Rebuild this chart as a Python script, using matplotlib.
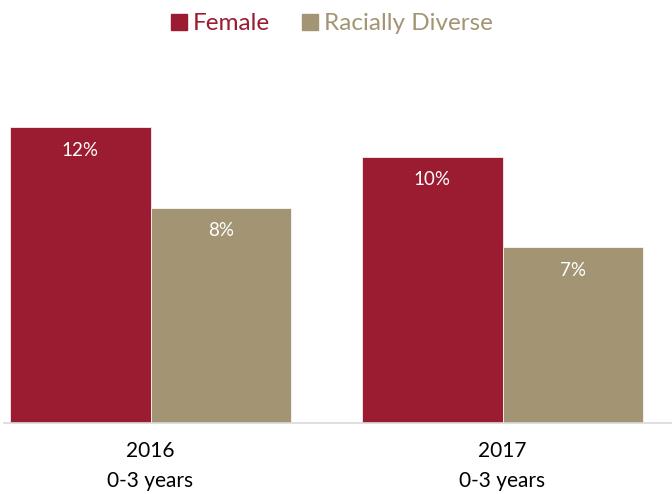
import matplotlib
matplotlib.use("Agg")
import matplotlib.pyplot as plt
from matplotlib.patches import Patch
import numpy as np

plt.rcParams['font.family'] = ['Lato', 'DejaVu Sans']

categories = ["2016\n0-3 years", "2017\n0-3 years"]
series_names = ["Female", "Racially Diverse"]
female = [11.6, 10.44]
diverse = [8.43, 6.89]
colors = ["#9B1B30", "#A39574"]

W, H = 672, 494
fig = plt.figure(figsize=(W / 100, H / 100), dpi=100)
# axes: left edge at x=4px, right at 672, baseline at y=423px
ax = fig.add_axes([4 / W, (H - 423) / H, (W - 4) / W, (423 - 60) / H])

x = np.arange(len(categories))
bw = 0.399
b1 = ax.bar(x - bw / 2, female, bw, color=colors[0], edgecolor='white', linewidth=0.5)
b2 = ax.bar(x + bw / 2, diverse, bw, color=colors[1], edgecolor='white', linewidth=0.5)

px_per_cat = 352.0
ax.set_xlim(-146.5 / px_per_cat, (672 - 150.5) / px_per_cat)
px_per_pct = 296 / 11.6
ax.set_ylim(0, (423 - 60) / px_per_pct)

for bars, vals in ((b1, female), (b2, diverse)):
    for rect, v in zip(bars, vals):
        ax.annotate(f"{v:.0f}%", (rect.get_x() + rect.get_width() / 2, v),
                    xytext=(0, -23), textcoords='offset pixels',
                    ha='center', va='center', color='white', fontsize=13.5)

ax.set_xticks(x)
ax.set_xticklabels(categories, fontsize=15, color='#000000', linespacing=1.65)
ax.tick_params(axis='x', length=0, pad=13)
ax.set_yticks([])
for s in ('top', 'right', 'left'):
    ax.spines[s].set_visible(False)
ax.spines['bottom'].set_color('#D9D9D9')
ax.spines['bottom'].set_linewidth(1.2)

handles = [Patch(color=c) for c in colors]
leg = fig.legend(handles, series_names, loc='center', bbox_to_anchor=(0.494, 1 - 24 / H),
                 ncol=2, frameon=False, fontsize=17.5, handlelength=0.65, handleheight=0.65,
                 handletextpad=0.25, columnspacing=1.3)
for t, c in zip(leg.get_texts(), colors):
    t.set_color(c)

fig.savefig("out.png", dpi=100)
